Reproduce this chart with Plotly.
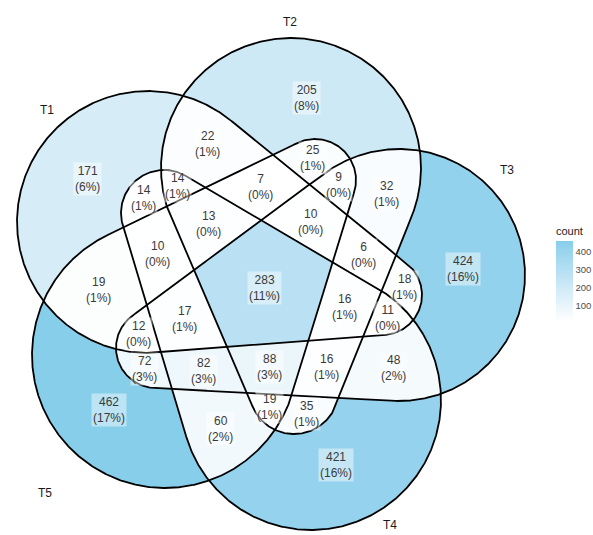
import numpy as np
import plotly.graph_objects as go

# ------------------------------------------------------------------ data
SET_NAMES = ["T1", "T2", "T3", "T4", "T5"]

REGION_SETS = [
    "T1", "T2", "T3", "T4", "T5",
    "T1&T2", "T2&T3", "T3&T4", "T4&T5", "T1&T5",
    "T1&T4", "T2&T5", "T1&T3", "T2&T4", "T3&T5",
    "T1&T2&T4", "T2&T3&T5", "T1&T3&T4", "T2&T4&T5", "T1&T3&T5",
    "T1&T2&T5", "T1&T2&T3", "T2&T3&T4", "T3&T4&T5", "T1&T4&T5",
    "T1&T2&T4&T5", "T1&T2&T3&T5", "T1&T2&T3&T4", "T2&T3&T4&T5", "T1&T3&T4&T5",
    "T1&T2&T3&T4&T5",
]
REGION_COUNTS = [
    171, 205, 424, 421, 462,
    22, 32, 48, 60, 19,
    14, 25, 18, 35, 72,
    14, 9, 11, 19, 12,
    7, 6, 16, 82, 10,
    13, 10, 16, 88, 17,
    283,
]
LEGEND_TICKS = [100, 200, 300, 400]

# ------------------------------------------------ shape geometry (pixel space)
# each set is a tapered "egg": a big round end and a small round tip
BIG_END = [(148, 222, 131), (291, 168, 130), (399, 275, 126), (311, 400, 130), (165, 355, 133)]
TIP_END = [(382, 295, 40), (294, 389, 45), (156, 348, 40), (164, 213, 43), (315, 180, 41)]
TAPER = 1.0
# set-name label anchors (x, y, vertical anchor)
SET_LABEL_XY = [(47, 110, "middle"), (290, 22, "middle"), (507, 170, "middle"),
                (390, 534, "bottom"), (45, 493, "middle")]

W, H = 593, 535
LOW_COL, HIGH_COL = "#FFFFFF", "#87CEEB"
FONT = "Liberation Sans, Arial, sans-serif"


def chain(k, n=121):
    bx, by, R = BIG_END[k]
    tx, ty, r = TIP_END[k]
    lam = np.linspace(0, 1, n)
    return bx + lam * (tx - bx), by + lam * (ty - by), R + (lam ** TAPER) * (r - R)


def sdf(k, px, py):
    cx, cy, rad = chain(k)
    d = np.full(np.shape(px), np.inf)
    for a, b, c in zip(cx, cy, rad):
        np.minimum(d, np.hypot(px - a, py - b) - c, out=d)
    return d


def outline(k, n=1440):
    bx, by, R = BIG_END[k]
    tx, ty, r = TIP_END[k]
    qx, qy = bx + 0.35 * (tx - bx), by + 0.35 * (ty - by)
    th = np.linspace(0, 2 * np.pi, n, endpoint=False)
    lo, hi = np.zeros(n), np.full(n, 450.0)
    for _ in range(36):
        mid = (lo + hi) / 2
        ins = sdf(k, qx + mid * np.cos(th), qy + mid * np.sin(th)) < 0
        lo = np.where(ins, mid, lo)
        hi = np.where(ins, hi, mid)
    xs, ys = qx + lo * np.cos(th), qy + lo * np.sin(th)
    return np.append(xs, xs[0]), np.append(ys, ys[0])


# ---------------------------------------------------------- colour helpers
def _hex(h):
    h = h.lstrip("#")
    return np.array([int(h[i:i + 2], 16) for i in (0, 2, 4)], float)


_M = np.array([[0.4124564, 0.3575761, 0.1804375],
               [0.2126729, 0.7151522, 0.0721750],
               [0.0193339, 0.1191920, 0.9503041]])
_WP = np.array([0.95047, 1.0, 1.08883])


def to_lab(rgb):
    c = rgb / 255
    c = np.where(c <= 0.04045, c / 12.92, ((c + 0.055) / 1.055) ** 2.4)
    xyz = _M @ c / _WP
    f = np.where(xyz > (6 / 29) ** 3, np.cbrt(xyz), xyz / (3 * (6 / 29) ** 2) + 4 / 29)
    return np.array([116 * f[1] - 16, 500 * (f[0] - f[1]), 200 * (f[1] - f[2])])


def from_lab(lab):
    fy = (lab[0] + 16) / 116
    f = np.array([fy + lab[1] / 500, fy, fy - lab[2] / 200])
    xyz = np.where(f > 6 / 29, f ** 3, 3 * (6 / 29) ** 2 * (f - 4 / 29)) * _WP
    c = np.clip(np.linalg.solve(_M, xyz), 0, 1)
    c = np.where(c <= 0.0031308, 12.92 * c, 1.055 * c ** (1 / 2.4) - 0.055)
    return "rgb(%d,%d,%d)" % tuple(np.round(np.clip(c, 0, 1) * 255))


la, lb = to_lab(_hex(LOW_COL)), to_lab(_hex(HIGH_COL))
COLORSCALE = [[t, from_lab(la + t * (lb - la))] for t in np.linspace(0, 1, 11)]

# ---------------------------------------------------------- region raster
PX, PY = np.meshgrid(np.arange(W) + 0.5, np.arange(H) + 0.5)
code = np.zeros((H, W), int)
for k in range(5):
    code |= (sdf(k, PX, PY) < 0).astype(int) << k

region_code = [sum(1 << SET_NAMES.index(s) for s in name.split("&")) for name in REGION_SETS]
z = np.full((H, W), np.nan)
for c, cnt in zip(region_code, REGION_COUNTS):
    z[code == c] = cnt
z_list = [[None if np.isnan(v) else int(v) for v in row] for row in z]

total = sum(REGION_COUNTS)

fig = go.Figure()
fig.add_trace(go.Heatmap(
    x=np.arange(W) + 0.5, y=np.arange(H) + 0.5, z=z_list,
    zmin=min(REGION_COUNTS), zmax=max(REGION_COUNTS),
    colorscale=COLORSCALE, zsmooth=False, hoverinfo="skip",
    colorbar=dict(
        title=dict(text="count", side="top", font=dict(family=FONT, size=11, color="#1a1a1a")),
        x=556 / W, xanchor="left", y=1 - 224 / H, yanchor="top",
        len=98, lenmode="pixels", thickness=17, thicknessmode="pixels",
        outlinewidth=0, xpad=0, ypad=0, ticks="", tickvals=LEGEND_TICKS,
        tickfont=dict(family=FONT, size=9.5, color="#4d4d4d"),
    ),
))

for k in range(5):
    xs, ys = outline(k)
    fig.add_trace(go.Scatter(x=xs, y=ys, mode="lines", line=dict(color="black", width=1.8),
                             hoverinfo="skip", showlegend=False))

annotations = []
for c, cnt in zip(region_code, REGION_COUNTS):
    m = code == c
    if not m.any():
        continue
    annotations.append(dict(
        x=float(PX[m].mean()), y=float(PY[m].mean()), xref="x", yref="y",
        text=f"{cnt}<br>({round(100 * cnt / total)}%)", showarrow=False,
        font=dict(family=FONT, size=12, color="#3a3a3a"),
        bgcolor="rgba(255,255,255,0.45)", borderpad=1, align="center",
    ))
for name, (lx, ly, va) in zip(SET_NAMES, SET_LABEL_XY):
    annotations.append(dict(x=lx, y=ly, xref="x", yref="y", text=name, showarrow=False,
                            yanchor=va, font=dict(family=FONT, size=12, color="#1a1a1a")))

fig.update_layout(
    width=W, height=H, margin=dict(l=0, r=0, t=0, b=0, autoexpand=False),
    paper_bgcolor="white", plot_bgcolor="white", showlegend=False,
    xaxis=dict(range=[0, W], visible=False, fixedrange=True),
    yaxis=dict(range=[H, 0], visible=False, fixedrange=True),
    annotations=annotations,
)
fig.write_html("out.html")
